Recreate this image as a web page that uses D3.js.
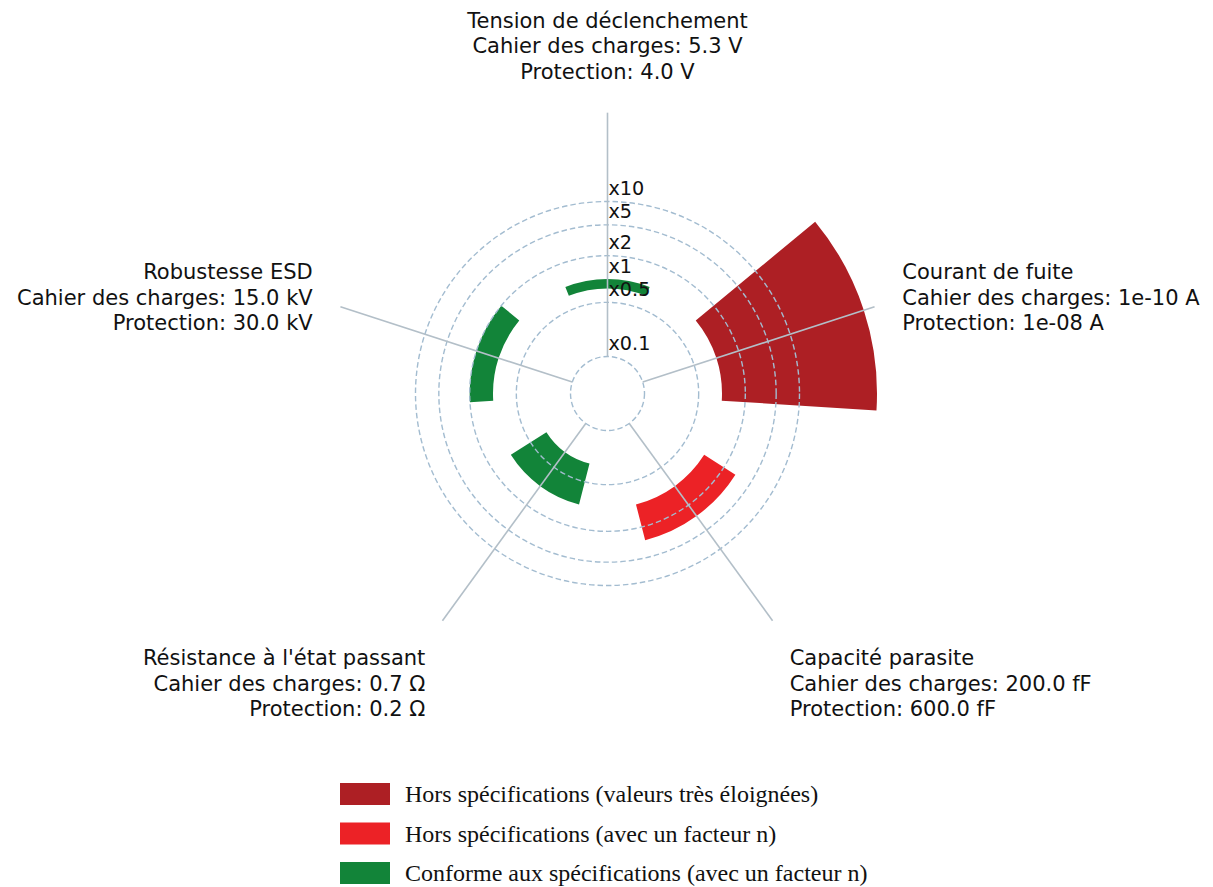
<!DOCTYPE html>
<html>
<head>
<meta charset="utf-8">
<script src="https://cdn.jsdelivr.net/npm/d3@7"></script>
<style>
  body { margin: 0; background: #ffffff; }
  svg { display: block; }
</style>
</head>
<body>
<svg id="chart" width="1213" height="887"></svg>
<script>
// Criteria compared: specification value vs. protection value
const categories = [
  "Tension de déclenchement",
  "Courant de fuite",
  "Capacité parasite",
  "Résistance à l'état passant",
  "Robustesse ESD"
];
const specValues = [5.3, 1e-10, 200.0, 0.7, 15.0];
const protectionValues = [4.0, 1e-8, 600.0, 0.2, 30.0];
const specLabels = ["5.3 V", "1e-10 A", "200.0 fF", "0.7 Ω", "15.0 kV"];
const protectionLabels = ["4.0 V", "1e-08 A", "600.0 fF", "0.2 Ω", "30.0 kV"];
const statuses = ["conforme", "tres_eloigne", "hors_facteur", "conforme", "conforme"];

// Status legend
const statusKeys = ["tres_eloigne", "hors_facteur", "conforme"];
const statusNames = [
  "Hors spécifications (valeurs très éloignées)",
  "Hors spécifications (avec un facteur n)",
  "Conforme aux spécifications (avec un facteur n)"
];
const statusColors = ["#ad1f24", "#ec2226", "#128439"];

// Radial ratio ticks
const tickValues = [0.1, 0.5, 1, 2, 5, 10];
const tickLabels = ["x0.1", "x0.5", "x1", "x2", "x5", "x10"];
const gridValues = [0.1, 0.5, 2, 5, 10];
const axisMaxValue = 140;

const cx = 607.5, cy = 393.5;
const svg = d3.select("#chart");
const root = svg.append("g").attr("transform", `translate(${cx},${cy})`);

const r = d3.scaleLog().domain([0.1, 10]).range([37, 192]);
const angle = d3.scaleLinear().domain([0, categories.length]).range([0, 2 * Math.PI]);
const color = d3.scaleOrdinal().domain(statusKeys).range(statusColors);
const halfWidth = (angle(1) - angle(0)) * 0.3;

const ratios = categories.map((c, i) => protectionValues[i] / specValues[i]);

// Bars: from the x1 ring out (or in) to the protection/spec ratio
const arc = d3.arc();
root.append("g").selectAll("path")
  .data(categories.map((c, i) => i))
  .join("path")
  .attr("d", i => arc({
    innerRadius: r(Math.min(1, ratios[i])),
    outerRadius: r(Math.max(1, ratios[i])),
    startAngle: angle(i) - halfWidth,
    endAngle: angle(i) + halfWidth
  }))
  .attr("fill", i => color(statuses[i]));

// Dashed ratio rings
root.append("g").selectAll("circle")
  .data(gridValues)
  .join("circle")
  .attr("r", d => r(d))
  .attr("fill", "none")
  .attr("stroke", "#a3bcd0")
  .attr("stroke-width", 1.4)
  .attr("stroke-dasharray", "5.5,3");

// Spokes
root.append("g").selectAll("line")
  .data(categories.map((c, i) => i))
  .join("line")
  .attr("x1", i => r(0.1) * Math.sin(angle(i)))
  .attr("y1", i => -r(0.1) * Math.cos(angle(i)))
  .attr("x2", i => r(axisMaxValue) * Math.sin(angle(i)))
  .attr("y2", i => -r(axisMaxValue) * Math.cos(angle(i)))
  .attr("stroke", "#b3bfc8")
  .attr("stroke-width", 1.6);

// Ratio tick labels along the top spoke
root.append("g").selectAll("text")
  .data(tickValues)
  .join("text")
  .attr("x", 1)
  .attr("y", d => -r(d) - 6.5)
  .attr("font-family", "DejaVu Sans, sans-serif")
  .attr("font-size", 19.2)
  .attr("fill", "#111")
  .text((d, i) => tickLabels[i]);

// Category labels around the chart
const labelRadius = 310;
const lineH = 25.4;
const labelG = root.append("g")
  .attr("font-family", "DejaVu Sans, sans-serif")
  .attr("font-size", 21)
  .attr("fill", "#111");

categories.forEach((c, i) => {
  const a = angle(i);
  const x = labelRadius * Math.sin(a);
  const y = -labelRadius * Math.cos(a);
  const s = Math.sin(a), co = Math.cos(a);
  let anchor = "middle";
  if (s > 0.01) anchor = "start";
  else if (s < -0.01) anchor = "end";
  const lines = [c, "Cahier des charges: " + specLabels[i], "Protection: " + protectionLabels[i]];
  let firstBaseline;
  if (co > 0.99) firstBaseline = y - 5 - (lines.length - 1) * lineH;        // above
  else if (co > 0) firstBaseline = y + 7 - lineH;                           // centred
  else firstBaseline = y + 21;                                              // below
  const t = labelG.append("text").attr("text-anchor", anchor);
  lines.forEach((ln, k) => {
    t.append("tspan").attr("x", x).attr("y", firstBaseline + k * lineH).text(ln);
  });
});

// Legend
const legend = svg.append("g")
  .attr("transform", "translate(340,783)")
  .attr("font-family", "Liberation Serif, Times New Roman, serif")
  .attr("font-size", 24)
  .attr("fill", "#111");
const row = legend.selectAll("g")
  .data(statusKeys)
  .join("g")
  .attr("transform", (d, i) => `translate(0,${i * 39.5})`);
row.append("rect")
  .attr("width", 50).attr("height", 22)
  .attr("fill", d => color(d));
row.append("text")
  .attr("x", 65).attr("y", 19)
  .text((d, i) => statusNames[i]);
</script>
</body>
</html>
